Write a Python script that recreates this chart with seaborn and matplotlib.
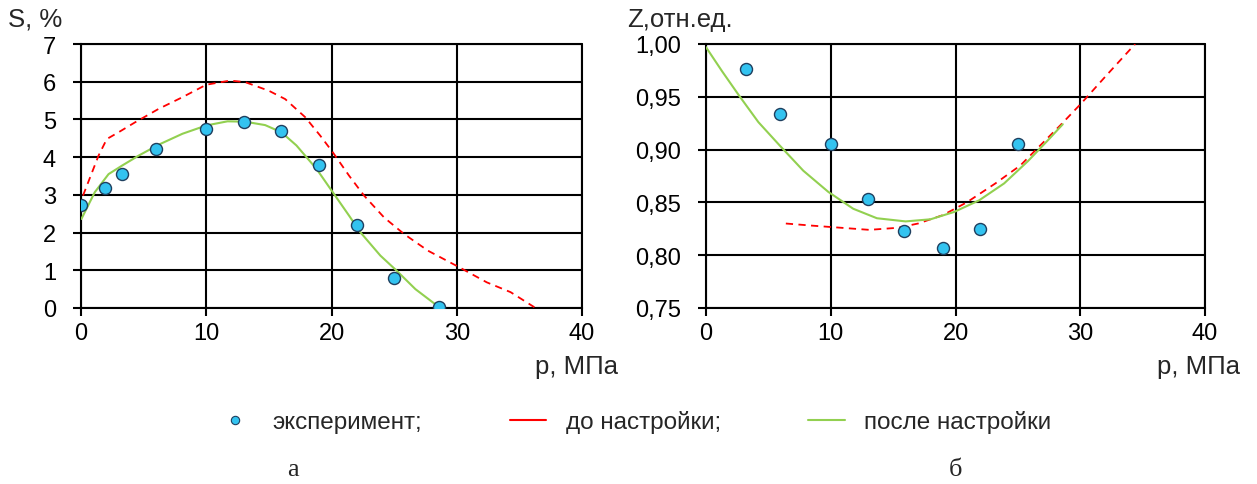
import matplotlib
matplotlib.use("Agg")
import matplotlib.pyplot as plt
import seaborn as sns
from matplotlib.lines import Line2D

# --- panel а: S, % vs p ---
exp_p_s = [0.0, 1.9, 3.3, 6.0, 10.0, 13.0, 16.0, 19.0, 22.0, 25.0, 28.6]
exp_s = [2.73, 3.17, 3.54, 4.22, 4.75, 4.94, 4.69, 3.80, 2.21, 0.80, 0.02]

before_p_s = [0.16, 1.4, 2.06, 3.0, 4.3, 6.2, 8.1, 10.0, 11.9, 13.1, 15.0, 16.3, 17.9,
              19.1, 20.1, 21.4, 22.6, 24.2, 25.8, 27.7, 30.2, 32.4, 34.3, 36.2]
before_s = [2.98, 4.04, 4.48, 4.66, 4.92, 5.28, 5.59, 5.92, 6.03, 5.99, 5.76, 5.54, 5.06,
            4.57, 4.13, 3.51, 2.98, 2.40, 1.96, 1.52, 1.08, 0.68, 0.42, 0.02]

after_p_s = [0.03, 1.1, 2.2, 3.3, 4.6, 6.2, 8.1, 10.0, 11.7, 13.1, 14.7, 16.0, 17.2,
             18.8, 20.1, 21.4, 22.3, 23.9, 25.2, 26.7, 28.6]
after_s = [2.36, 3.07, 3.55, 3.78, 4.04, 4.33, 4.62, 4.84, 4.95, 4.94, 4.85, 4.66, 4.31,
           3.69, 3.07, 2.45, 2.01, 1.39, 0.99, 0.50, 0.02]

# --- panel б: Z, отн.ед. vs p ---
exp_p_z = [3.2, 5.9, 10.0, 13.0, 15.9, 19.0, 22.0, 25.0]
exp_z = [0.976, 0.934, 0.905, 0.853, 0.823, 0.807, 0.825, 0.905]

before_p_z = [6.4, 8.5, 10.8, 13.1, 15.4, 17.0, 19.0, 20.9, 23.2, 25.2, 26.8, 28.4,
              30.1, 32.0, 34.4]
before_z = [0.830, 0.828, 0.826, 0.824, 0.826, 0.830, 0.838, 0.850, 0.868, 0.885, 0.904,
            0.923, 0.944, 0.969, 1.000]

after_p_z = [0.0, 1.3, 2.6, 4.2, 5.9, 7.8, 9.8, 11.8, 13.7, 16.0, 18.0, 19.9, 21.9,
             23.9, 25.8, 27.5, 28.6]
after_z = [0.997, 0.974, 0.952, 0.926, 0.904, 0.880, 0.860, 0.844, 0.835, 0.832, 0.834,
           0.841, 0.852, 0.868, 0.889, 0.910, 0.924]

legend_labels = ["эксперимент;", "до настройки;", "после настройки"]

RED = "#FF0000"
GREEN = "#92D050"
MARKER_FACE = "#33C3F0"
MARKER_EDGE = "#1F3F5F"

sns.set_style("white")
plt.rcParams["font.family"] = ["Liberation Sans", "DejaVu Sans"]

W, H = 1257, 485
fig = plt.figure(figsize=(W / 100, H / 100), dpi=100)
ax_s = fig.add_axes([81 / W, 1 - 309 / H, 501 / W, 264 / H])
ax_z = fig.add_axes([706 / W, 1 - 309 / H, 499 / W, 264 / H])


def draw(ax, ep, ev, bp, bv, ap, av):
    sns.lineplot(x=bp, y=bv, ax=ax, sort=False, color=RED, lw=1.3,
                 linestyle=(0, (4, 3)), zorder=3)
    sns.lineplot(x=ap, y=av, ax=ax, sort=False, color=GREEN, lw=1.5, zorder=4)
    sns.scatterplot(x=ep, y=ev, ax=ax, s=75, color=MARKER_FACE,
                    edgecolor=MARKER_EDGE, linewidth=1.0, zorder=5)
    ax.grid(True, color="black", lw=1.5)
    ax.set_axisbelow(True)
    for side in ["top", "right"]:
        ax.spines[side].set_visible(False)
    for side in ["left", "bottom"]:
        ax.spines[side].set_color("black")
        ax.spines[side].set_linewidth(1.5)
    ax.tick_params(axis="both", direction="out", length=6, width=1.5,
                   colors="black", labelsize=17, left=True, bottom=True)
    ax.tick_params(axis="y", pad=12)
    ax.tick_params(axis="x", pad=4)
    ax.set_xlim(0, 40)
    ax.set_xticks([0, 10, 20, 30, 40])
    ax.set_xlabel("")
    ax.set_ylabel("")


draw(ax_s, exp_p_s, exp_s, before_p_s, before_s, after_p_s, after_s)
ax_s.set_ylim(0, 7)
ax_s.set_yticks(range(0, 8))

draw(ax_z, exp_p_z, exp_z, before_p_z, before_z, after_p_z, after_z)
ax_z.set_ylim(0.75, 1.0)
ax_z.set_yticks([0.75, 0.80, 0.85, 0.90, 0.95, 1.00])
ax_z.set_yticklabels([f"{v:.2f}".replace(".", ",") for v in ax_z.get_yticks()])

# closing gridlines at the top / right edges
for ax in (ax_s, ax_z):
    ax.axhline(ax.get_ylim()[1], color="black", lw=1.5, clip_on=False, zorder=2)
    ax.axvline(40, color="black", lw=1.5, clip_on=False, zorder=2)

fig.text(8 / W, 1 - 20 / H, "S, %", fontsize=18.5, va="center", ha="left")
fig.text(618 / W, 1 - 367 / H, "p, МПа", fontsize=18.5, va="center", ha="right")
fig.text(627 / W, 1 - 20 / H, "Z,отн.ед.", fontsize=18.5, va="center", ha="left")
fig.text(1240 / W, 1 - 367 / H, "p, МПа", fontsize=18.5, va="center", ha="right")

handles = [
    Line2D([], [], marker="o", linestyle="none", markersize=6,
           markerfacecolor=MARKER_FACE, markeredgecolor=MARKER_EDGE, markeredgewidth=0.8),
    Line2D([], [], color=RED, lw=1.5),
    Line2D([], [], color=GREEN, lw=1.5),
]
fig.legend(handles, legend_labels, loc="center", bbox_to_anchor=(634 / W, 1 - 423 / H),
           ncol=3, frameon=False, fontsize=17.5, handlelength=1.5, handletextpad=0.8,
           columnspacing=3.6, borderpad=0, borderaxespad=0)

fig.text(293 / W, 1 - 470 / H, "а", fontsize=19, family="Liberation Serif",
         ha="center", va="center")
fig.text(955 / W, 1 - 470 / H, "б", fontsize=19, family="Liberation Serif",
         ha="center", va="center")

fig.savefig("out.png", dpi=100, facecolor="white")
